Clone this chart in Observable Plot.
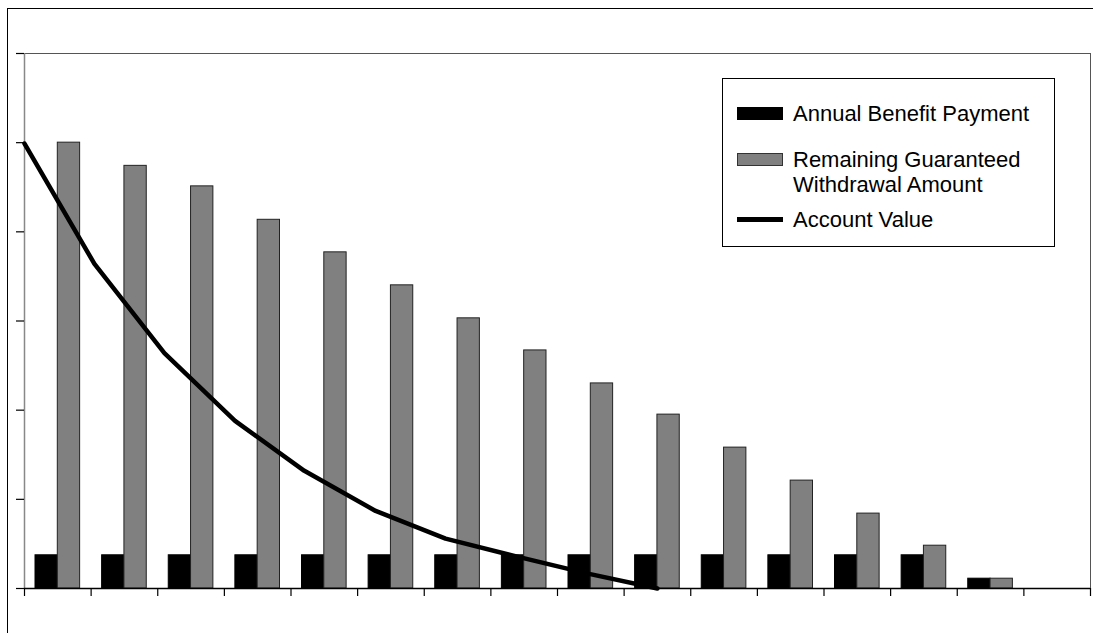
<!DOCTYPE html>
<html>
<head>
<meta charset="utf-8">
<script src="https://cdn.jsdelivr.net/npm/d3@7"></script>
<script src="https://cdn.jsdelivr.net/npm/@observablehq/plot@0.6"></script>
<style>
  html, body { margin: 0; padding: 0; background: #fff; }
  #wrap { position: relative; width: 1093px; height: 633px; overflow: hidden; font-family: "Liberation Sans", Arial, sans-serif; }
  #outer { position: absolute; left: 7px; top: 8px; width: 1200px; height: 700px; border-top: 1.5px solid #000; border-left: 1.5px solid #000; box-sizing: border-box; pointer-events: none; }
  #legend { position: absolute; left: 722px; top: 78px; width: 333px; height: 169px; border: 1px solid #000; box-sizing: border-box; background: #fff; font-size: 22px; color: #000; font-family: "Liberation Sans", Arial, sans-serif; }
  .item { position: absolute; left: 14px; display: flex; align-items: flex-start; }
  .sw { width: 46px; margin-right: 10px; box-sizing: border-box; }
  .txt { line-height: 25px; }
</style>
</head>
<body>
<div id="wrap">
  <div id="chart"></div>
  <div id="outer"></div>
  <div id="legend"></div>
</div>
<script>
// ---- data ----
const years = [1, 2, 3, 4, 5, 6, 7, 8, 9, 10, 11, 12, 13, 14, 15];
const annualBenefit = [7450, 7450, 7450, 7450, 7450, 7450, 7450, 7450, 7450, 7450, 7450, 7450, 7450, 7450, 2200];
const remainingGWA = [100000, 94800, 90200, 82700, 75400, 68000, 60600, 53400, 46000, 39000, 31600, 24200, 16800, 9600, 2200];
const accountYears = [0, 1.05, 2.1, 3.16, 4.2, 5.27, 6.32, 7.38, 8.44, 9.5];
const accountValue = [99800, 72800, 52800, 37600, 26400, 17400, 11200, 7200, 3400, 0];
const yTicks = [0, 20000, 40000, 60000, 80000, 100000, 120000];
const xTicks = [0, 1, 2, 3, 4, 5, 6, 7, 8, 9, 10, 11, 12, 13, 14, 15, 16];
const seriesNames = ["Annual Benefit Payment", "Remaining Guaranteed\nWithdrawal Amount", "Account Value"];

const benefitRows = years.map((yr, i) => ({year: yr, value: annualBenefit[i]}));
const remainingRows = years.map((yr, i) => ({year: yr, value: remainingGWA[i]}));
const accountRows = accountYears.map((yr, i) => ({year: yr, value: accountValue[i]}));

const chart = Plot.plot({
  width: 1093,
  height: 633,
  marginLeft: 24,
  marginRight: 3,
  marginTop: 53,
  marginBottom: 45,
  style: {background: "transparent", overflow: "visible"},
  x: {type: "linear", domain: [0, 16], label: null},
  y: {domain: [0, 120000], label: null},
  marks: [
    // plot area borders
    Plot.ruleY([120000], {stroke: "#555", strokeWidth: 1}),
    Plot.ruleX([16], {stroke: "#555", strokeWidth: 1}),
    Plot.ruleX([0], {stroke: "#888", strokeWidth: 1.5}),
    // bars
    Plot.rectY(benefitRows, {x1: d => d.year - 1, x2: d => d.year, y: "value", fill: "#000", stroke: "#000", strokeWidth: 1, insetLeft: 11, insetRight: 33.3}),
    Plot.rectY(remainingRows, {x1: d => d.year - 1, x2: d => d.year, y: "value", fill: "#808080", stroke: "#222", strokeWidth: 1, insetLeft: 33.3, insetRight: 11}),
    // account value line
    Plot.line(accountRows, {x: "year", y: "value", stroke: "#000", strokeWidth: 4.5, curve: "linear", strokeLinejoin: "round"}),
    // axes
    Plot.ruleY([0], {stroke: "#000", strokeWidth: 1.5}),
    Plot.axisY(yTicks, {tickSize: 8, tickFormat: () => "", label: null, stroke: "#000", strokeWidth: 1.2, strokeOpacity: 1}),
    Plot.axisX(xTicks, {tickSize: 8, tickFormat: () => "", label: null, stroke: "#000", strokeWidth: 1.2, strokeOpacity: 1})
  ]
});
document.getElementById("chart").appendChild(chart);

// ---- legend ----
const legend = document.getElementById("legend");
const swatches = [
  {top: 22, sw: "height:13px;margin-top:6px;background:#000;border:1px solid #000;"},
  {top: 68, sw: "height:13px;margin-top:6px;background:#808080;border:1px solid #333;"},
  {top: 128, sw: "height:4.5px;margin-top:10px;background:#000;"}
];
seriesNames.forEach((name, i) => {
  const item = document.createElement("div");
  item.className = "item";
  item.style.top = swatches[i].top + "px";
  const sw = document.createElement("div");
  sw.className = "sw";
  sw.style.cssText = swatches[i].sw;
  const t = document.createElement("div");
  t.className = "txt";
  t.innerHTML = name.split("\n").join("<br>");
  item.appendChild(sw);
  item.appendChild(t);
  legend.appendChild(item);
});
</script>
</body>
</html>
